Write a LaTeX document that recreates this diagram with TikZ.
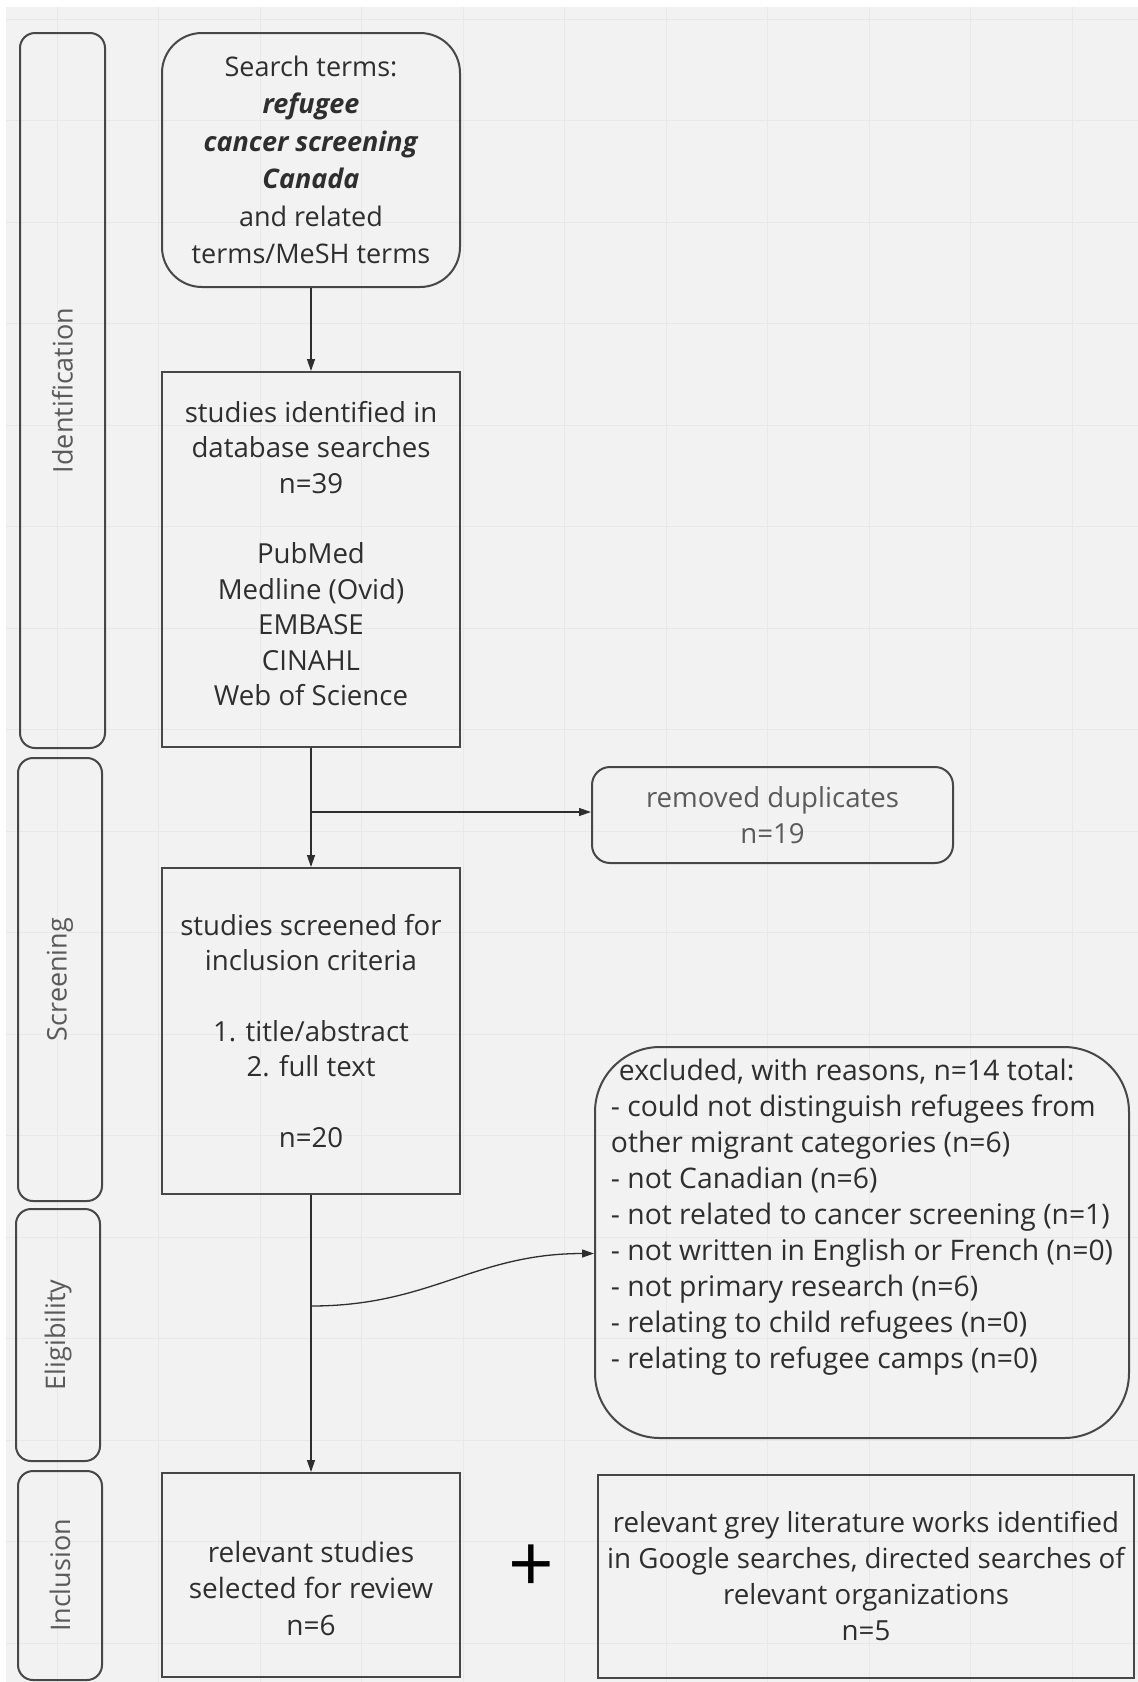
\documentclass[tikz,border=0pt]{standalone}
\usepackage{fontspec}
\setmainfont{Open Sans}
\usetikzlibrary{arrows.meta}

\definecolor{paper}{HTML}{F2F2F2}
\definecolor{gridc}{HTML}{E8E8E8}
\definecolor{ink}{HTML}{2E2E2E}
\definecolor{edge}{HTML}{474747}
\definecolor{lanetext}{HTML}{5A5A5A}

\begin{document}
\begin{tikzpicture}[x=1pt,y=-1pt,
  box/.style={text=ink, draw=edge, line width=2pt, align=center, inner sep=0pt,
              font=\fontsize{28}{36}\selectfont},
  lane/.style={draw=edge, line width=2pt, rounded corners=15pt, inner sep=0pt,
               font=\fontsize{27}{36}\selectfont, text=lanetext, rotate=90},
  flow/.style={draw=ink, line width=1.3pt, -{Triangle[length=12pt,width=8pt]}},
]
\useasboundingbox (0,0) rectangle (1138,1682);

% canvas with faint grid
\fill[white] (0,0) rectangle (1138,1682);
\fill[paper] (6,7) rectangle (1138,1682);
\foreach \gx in {0,...,10} \draw[gridc, line width=1pt] ({57+101.5*\gx},7) -- ({57+101.5*\gx},1682);
\foreach \gy in {0,...,16} \draw[gridc, line width=1pt] (6,{19+101.5*\gy}) -- (1138,{19+101.5*\gy});

% phase lanes
\node[lane, minimum width=715pt, minimum height=85pt] (laneid) at (62.5,390.5) {Identification};
\node[lane, minimum width=443pt, minimum height=84pt] (lanescr) at (60,979.5) {Screening};
\node[lane, minimum width=252pt, minimum height=84pt] (laneel) at (58,1335) {Eligibility};
\node[lane, minimum width=209pt, minimum height=84pt] (lanein) at (60,1575.5) {Inclusion};

% main column
\node[box, font=\fontsize{27}{37.5}\selectfont, rounded corners=40pt,
      minimum width=298pt, minimum height=254pt] (search) at (311,160)
  {Search terms:\\\textbf{\textit{refugee}}\\\textbf{\textit{cancer screening}}\\\textbf{\textit{Canada}}\\and related\\terms/MeSH terms};

\node[box, font=\fontsize{27.6}{35.4}\selectfont, minimum width=298pt, minimum height=375pt] (ident) at (311,559.5)
  {studies identified in\\database searches\\n=39\\[35.4pt]PubMed\\Medline (Ovid)\\EMBASE\\CINAHL\\Web of Science\\[-23pt]\mbox{}};

\node[box, font=\fontsize{27.6}{35.4}\selectfont, minimum width=298pt, minimum height=326pt] (screen) at (311,1031)
  {studies screened for\\inclusion criteria\\[35.4pt]1. title/abstract\\2. full text\\[35.4pt]n=20};

\node[box, font=\fontsize{28}{36.5}\selectfont, minimum width=298pt, minimum height=204pt] (incl) at (311,1575)
  {\mbox{}\\[11pt]relevant studies\\selected for review\\n=6};

% side boxes
\node[box, font=\fontsize{27.6}{36.5}\selectfont, rounded corners=18pt,
      minimum width=361pt, minimum height=96pt, text=lanetext] (dup) at (772.5,815)
  {removed duplicates\\n=19};

\node[box, font=\fontsize{28.3}{36}\selectfont, rounded corners=65pt,
      minimum width=534pt, minimum height=391pt, align=left] (excl) at (862,1242.5)
  {\hspace*{8pt}excluded, with reasons, n=14 total:\\
   - could not distinguish refugees from\\
   other migrant categories (n=6)\\
   - not Canadian (n=6)\\
   - not related to cancer screening (n=1)\\
   - not written in English or French (n=0)\\
   - not primary research (n=6)\\
   - relating to child refugees (n=0)\\
   - relating to refugee camps (n=0)\\[21pt]\mbox{}};

\node[box, font=\fontsize{27.7}{36}\selectfont, minimum width=536pt, minimum height=203pt] (grey) at (866,1576.5)
  {relevant grey literature works identified\\in Google searches, directed searches of\\relevant organizations\\n=5};

\node[font=\fontsize{80}{80}\selectfont, text=black, inner sep=0pt] (plus) at (531,1569) {+};

% connectors
\coordinate (dupfork) at (311,812);
\coordinate (exfork) at (311,1306);
\draw[flow] (search.south) -- (ident.north);
\draw[flow] (ident.south) -- (screen.north);
\draw[flow] (dupfork) -- (dup.west |- dupfork);
\draw[flow] (screen.south) -- (incl.north);
\draw[flow] (exfork) .. controls +(120,0) and ([shift={(-120pt,-11pt)}]excl.west) .. ([yshift=-11pt]excl.west);
\end{tikzpicture}
\end{document}
